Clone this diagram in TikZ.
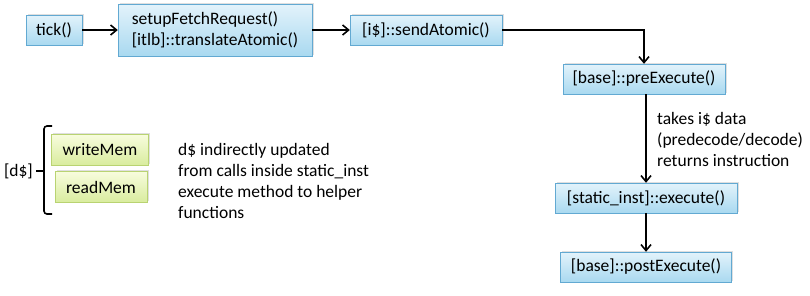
\documentclass[tikz,border=0pt]{standalone}
\usepackage{fontspec}
\setmainfont{Carlito}
\usepackage{xcolor}
\usetikzlibrary{arrows.meta,shadows}

\definecolor{calltop}{HTML}{E3F3FB}
\definecolor{callbot}{HTML}{A9D9F0}
\definecolor{calledge}{HTML}{62A9D2}
\definecolor{memtop}{HTML}{F7FCDD}
\definecolor{membot}{HTML}{D8EC9E}
\definecolor{memedge}{HTML}{B9D372}

\tikzset{
  call/.style={draw=calledge,top color=calltop,bottom color=callbot,
    minimum height=30,inner xsep=6,drop shadow={opacity=0.25,shadow xshift=1.5,shadow yshift=-1.5}},
  mem/.style={draw=memedge,top color=memtop,bottom color=membot,
    minimum height=31,drop shadow={opacity=0.25,shadow xshift=1.5,shadow yshift=-1.5}},
  note/.style={align=left,inner sep=0},
  flow/.style={line width=1.6,-{Straight Barb[length=6,width=10]}}
}

\begin{document}
\begin{tikzpicture}[x=1pt,y=-1pt,font=\fontsize{17.5}{21}\selectfont]
\useasboundingbox (0,0) rectangle (810,295);

% fetch stage
\node[call,minimum width=56] (tick) at (54,30) {tick()};
\node[call,minimum width=194,minimum height=52,align=left] (fetch) at (215,30)
  {setupFetchRequest()\\{}[itlb]::translateAtomic()};
\node[call,minimum width=152] (send) at (426,30) {[i\$]::sendAtomic()};

% execute stage
\node[call,minimum width=162] (pre) at (644,79) {[base]::preExecute()};
\node[call,minimum width=182] (exec) at (646,198) {[static\_inst]::execute()};
\node[call,minimum width=171] (post) at (646,267) {[base]::postExecute()};

\draw[flow] (tick) -- (fetch);
\draw[flow] (fetch) -- (send);
\draw[flow] (send.east) -| (pre.north);
\draw[flow] (pre.south -| exec.north) -- (exec.north);
\draw[flow] (exec) -- (post);

\node[note,anchor=west] (takes) at (657,139)
  {takes i\$ data\\(predecode/decode)\\returns instruction};

% data cache
\node[mem,minimum width=97] (write) at (100,150) {writeMem};
\node[mem,minimum width=92] (read) at (101,187) {readMem};
\draw[line width=1.6,rounded corners=3] (52,126) -- (44,126) -- (44,214) -- (52,214);
\draw[line width=1.6] (44,171) -- (36,171);
\node[anchor=east,inner sep=0] (dcache) at (33,171) {[d\$]};

\node[note,anchor=west] (dnote) at (178,181)
  {d\$ indirectly updated\\from calls inside static\_inst\\execute method to helper\\functions};
\end{tikzpicture}
\end{document}
